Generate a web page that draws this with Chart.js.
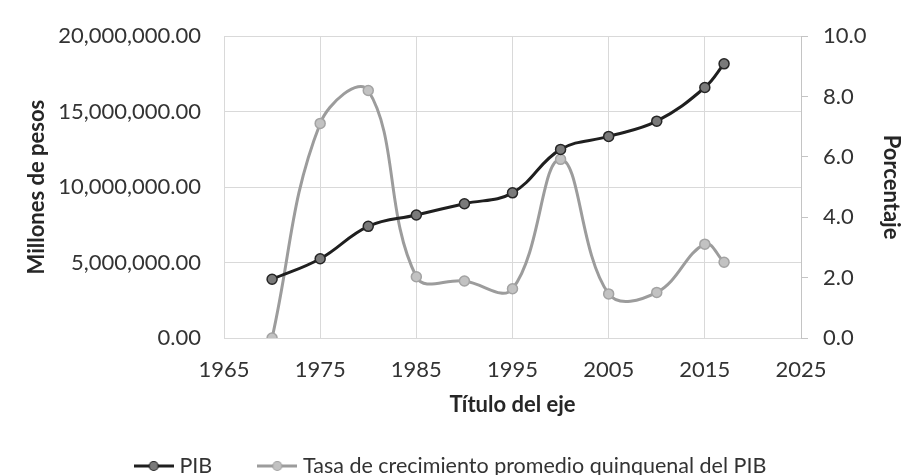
<!DOCTYPE html>
<html>
<head>
<meta charset="utf-8">
<script src="https://cdn.jsdelivr.net/npm/chart.js@4/dist/chart.umd.min.js"></script>
<style>
  html, body { margin: 0; padding: 0; background: #fff; }
  #wrap { width: 905px; height: 475px; }
</style>
</head>
<body>
<div id="wrap"><canvas id="pib-chart" width="905" height="475"></canvas></div>
<script>
// values
const years = [1970, 1975, 1980, 1985, 1990, 1995, 2000, 2005, 2010, 2015, 2017];
const pibValues = [3890000, 5250000, 7400000, 8150000, 8900000, 9620000, 12500000, 13360000, 14370000, 16600000, 18170000];
const tasaValues = [0, 7.11, 8.2, 2.03, 1.89, 1.63, 5.92, 1.46, 1.51, 3.11, 2.51];
const seriesNames = ["PIB", "Tasa de crecimiento promedio quinquenal del PIB"];
const xTitle = "Título del eje";
const yLeftTitle = "Millones de pesos";
const yRightTitle = "Porcentaje";

const FONT = "Lato";
const gridColor = "#d9d9d9";
const textColor = "#333333";
const titleColor = "#262626";

// small "line + circle" glyph like the Excel legend
function makeMarker(lineColor, fill, border) {
  const c = document.createElement("canvas");
  c.width = 40;
  c.height = 14;
  const ctx = c.getContext("2d");
  ctx.strokeStyle = lineColor;
  ctx.lineWidth = 3;
  ctx.beginPath();
  ctx.moveTo(0, 7);
  ctx.lineTo(40, 7);
  ctx.stroke();
  ctx.beginPath();
  ctx.arc(20, 7, 4.5, 0, Math.PI * 2);
  ctx.fillStyle = fill;
  ctx.fill();
  ctx.lineWidth = 1.2;
  ctx.strokeStyle = border;
  ctx.stroke();
  return c;
}

const toPoints = (vals) => years.map((y, i) => ({ x: y, y: vals[i] }));

const pibStyle = { line: "#1f1f1f", fill: "#7a7a7a", border: "#262626" };
const tasaStyle = { line: "#9c9c9c", fill: "#c2c2c2", border: "#a3a3a3" };
const markers = [
  makeMarker(pibStyle.line, pibStyle.fill, pibStyle.border),
  makeMarker(tasaStyle.line, tasaStyle.fill, tasaStyle.border),
];

new Chart(document.getElementById("pib-chart"), {
  type: "line",
  data: {
    datasets: [
      {
        label: seriesNames[0],
        data: toPoints(pibValues),
        yAxisID: "y",
        borderColor: pibStyle.line,
        borderWidth: 3,
        pointRadius: 5,
        pointBorderWidth: 1.5,
        pointBackgroundColor: pibStyle.fill,
        pointBorderColor: pibStyle.border,
        tension: 0.4,
        fill: false,
      },
      {
        label: seriesNames[1],
        data: toPoints(tasaValues),
        yAxisID: "y1",
        borderColor: tasaStyle.line,
        borderWidth: 3,
        pointRadius: 5,
        pointBorderWidth: 1.5,
        pointBackgroundColor: tasaStyle.fill,
        pointBorderColor: tasaStyle.border,
        tension: 0.4,
        fill: false,
      },
    ],
  },
  options: {
    responsive: false,
    animation: false,
    layout: { padding: { top: 36, left: 0, right: 0, bottom: -11.75 } },
    plugins: {
      tooltip: { enabled: false },
      legend: {
        position: "bottom",
        labels: {
          usePointStyle: true,
          pointStyleWidth: 30,
          padding: 50,
          color: textColor,
          font: { family: FONT, size: 21.5 },
          generateLabels: (chart) =>
            chart.data.datasets.map((ds, i) => ({
              text: ds.label,
              pointStyle: markers[i],
              fillStyle: "transparent",
              strokeStyle: "transparent",
              lineWidth: 0,
              fontColor: textColor,
              datasetIndex: i,
              hidden: false,
            })),
        },
      },
    },
    scales: {
      x: {
        type: "linear",
        min: 1965,
        max: 2025,
        afterFit: (s) => { s.height = 67.25; },
        ticks: {
          stepSize: 10,
          padding: 18.5,
          color: textColor,
          font: { family: FONT, size: 22 },
          callback: (v) => String(v),
        },
        grid: { color: gridColor, drawTicks: false },
        border: { color: gridColor },
        title: {
          display: true,
          text: xTitle,
          color: titleColor,
          font: { family: FONT, size: 22, weight: "bold" },
          padding: { top: 0, bottom: -13 },
        },
      },
      y: {
        position: "left",
        min: 0,
        max: 20000000,
        afterFit: (s) => { s.width = 224; },
        ticks: {
          stepSize: 5000000,
          padding: 23,
          color: textColor,
          font: { family: FONT, size: 22 },
          callback: (v) => v.toLocaleString("en-US", { minimumFractionDigits: 2, maximumFractionDigits: 2 }),
        },
        grid: { color: gridColor, drawTicks: false },
        border: { color: gridColor },
        title: {
          display: true,
          text: yLeftTitle,
          color: titleColor,
          font: { family: FONT, size: 22, weight: "bold" },
          padding: { top: 24, bottom: 0 },
        },
      },
      y1: {
        position: "right",
        min: 0,
        max: 10,
        afterFit: (s) => { s.width = 104; },
        ticks: {
          stepSize: 2,
          padding: 15,
          color: textColor,
          font: { family: FONT, size: 22 },
          callback: (v) => v.toFixed(1),
        },
        grid: { drawOnChartArea: false, drawTicks: true, tickLength: 7, color: "#c4c4c4" },
        border: { color: "#c4c4c4" },
        title: {
          display: true,
          text: yRightTitle,
          color: titleColor,
          font: { family: FONT, size: 22, weight: "bold" },
          padding: { top: 1, bottom: 0 },
        },
      },
    },
  },
});
</script>
</body>
</html>
